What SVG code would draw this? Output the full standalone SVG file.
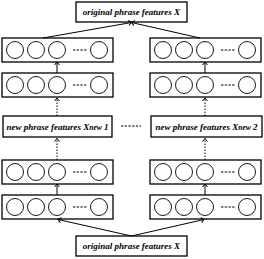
<svg xmlns="http://www.w3.org/2000/svg" width="264" height="259" viewBox="0 0 264 259">
<defs>
<style>
.box{fill:#fff;stroke:#000;stroke-width:1.3}
.c{fill:#fff;stroke:#000;stroke-width:0.9}
.dash{stroke:#000;stroke-width:1;stroke-dasharray:2.4 1.3;fill:none}
.lbl{font-family:"Liberation Serif","Times New Roman",serif;font-style:italic;font-weight:bold;font-size:9px;fill:#000}
.ln{stroke:#000;stroke-width:1;fill:none}
.dot{stroke:#000;stroke-width:1;stroke-dasharray:1.5 1.5;fill:none}
</style>
<marker id="ah2" viewBox="0 0 8 8" refX="7" refY="4" markerWidth="8" markerHeight="8" markerUnits="userSpaceOnUse" orient="auto">
<polyline points="4,1.5 7,4 4,6.5" fill="none" stroke="#000" stroke-width="1"/>
</marker>
<g id="layer">
<rect class="box" x="0" y="0" width="111" height="24"/>
<circle class="c" cx="13" cy="12" r="8.5"/>
<circle class="c" cx="34" cy="12" r="8.5"/>
<circle class="c" cx="55" cy="12" r="8.5"/>
<line class="dash" x1="71" y1="12" x2="85.5" y2="12"/>
<circle class="c" cx="97" cy="12" r="8.5"/>
</g>
</defs>

<g id="top-input">
<rect class="box" x="76" y="2" width="111" height="20"/>
<text class="lbl" x="131.5" y="15" text-anchor="middle">original phrase features X</text>
</g>

<g id="left-layer-1"><use href="#layer" x="2" y="38"/></g>
<g id="left-layer-2"><use href="#layer" x="2" y="73"/></g>
<g id="left-new">
<rect class="box" x="3" y="116" width="109" height="21"/>
<text class="lbl" x="57.5" y="129.5" text-anchor="middle">new phrase features X<tspan font-size="7.5" dy="0.8">new</tspan><tspan dy="-0.8"> 1</tspan></text>
</g>
<g id="left-layer-3"><use href="#layer" x="2" y="160"/></g>
<g id="left-layer-4"><use href="#layer" x="2" y="195"/></g>

<g id="right-layer-1"><use href="#layer" x="150" y="38"/></g>
<g id="right-layer-2"><use href="#layer" x="150" y="73"/></g>
<g id="right-new">
<rect class="box" x="151" y="116" width="111" height="21"/>
<text class="lbl" x="206.5" y="129.5" text-anchor="middle">new phrase features X<tspan font-size="7.5" dy="0.8">new</tspan><tspan dy="-0.8"> 2</tspan></text>
</g>
<g id="right-layer-3"><use href="#layer" x="150" y="160"/></g>
<g id="right-layer-4"><use href="#layer" x="150" y="195"/></g>

<g id="bottom-input">
<rect class="box" x="76" y="236" width="111" height="20"/>
<text class="lbl" x="131.5" y="249" text-anchor="middle">original phrase features X</text>
</g>

<g id="connectors">
<line class="ln" x1="43" y1="38" x2="131.5" y2="22.5" marker-end="url(#ah2)"/>
<line class="ln" x1="200" y1="38" x2="131.5" y2="22.5" marker-end="url(#ah2)"/>
<line class="ln" x1="57" y1="73" x2="57" y2="62" marker-end="url(#ah2)"/>
<line class="ln" x1="205" y1="73" x2="205" y2="62" marker-end="url(#ah2)"/>
<line class="dot" x1="57" y1="116" x2="57" y2="98" marker-end="url(#ah2)"/>
<line class="dot" x1="205" y1="116" x2="205" y2="98" marker-end="url(#ah2)"/>
<line class="dot" x1="57" y1="160" x2="57" y2="138.5" marker-end="url(#ah2)"/>
<line class="dot" x1="205" y1="160" x2="205" y2="138.5" marker-end="url(#ah2)"/>
<line class="ln" x1="57" y1="195" x2="57" y2="184" marker-end="url(#ah2)"/>
<line class="ln" x1="205" y1="195" x2="205" y2="184" marker-end="url(#ah2)"/>
<line class="ln" x1="131.5" y1="236" x2="58" y2="219.5" marker-end="url(#ah2)"/>
<line class="ln" x1="131.5" y1="236" x2="204" y2="219.5" marker-end="url(#ah2)"/>
<line class="dash" x1="121" y1="126" x2="141" y2="126"/>
</g>
</svg>
